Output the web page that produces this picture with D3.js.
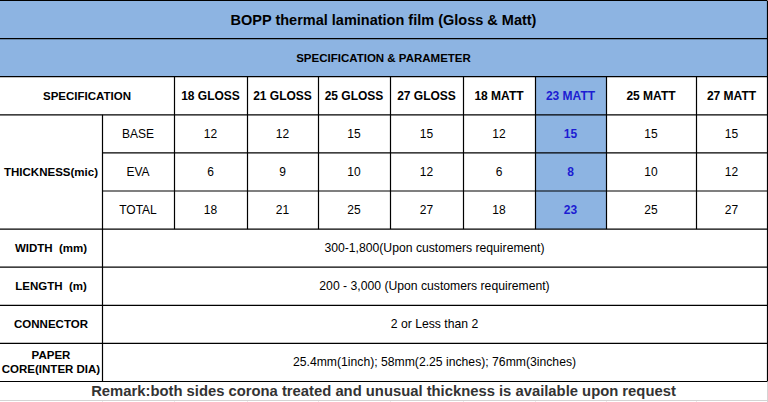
<!DOCTYPE html>
<html><head><meta charset="utf-8">
<script src="https://cdn.jsdelivr.net/npm/d3@7"></script>
<style>html,body{margin:0;padding:0;background:#fff;}svg{display:block;}text{white-space:pre;}</style>
</head><body>
<svg id="c" width="768" height="402"></svg>
<script>
const title = "BOPP thermal lamination film (Gloss & Matt)";
const subtitle = "SPECIFICATION & PARAMETER";
const products = ["18 GLOSS","21 GLOSS","25 GLOSS","27 GLOSS","18 MATT","23 MATT","25 MATT","27 MATT"];
const layers = ["BASE","EVA","TOTAL"];
const baseValues = [12,12,15,15,12,15,15,15];
const evaValues = [6,9,10,12,6,8,10,12];
const totalValues = [18,21,25,27,18,23,25,27];
const highlighted = "23 MATT";
const specLabels = ["WIDTH  (mm)","LENGTH  (m)","CONNECTOR",["PAPER","CORE(INTER DIA)"]];
const specValues = ["300-1,800(Upon customers requirement)","200 - 3,000 (Upon customers requirement)","2 or Less than 2","25.4mm(1inch); 58mm(2.25 inches); 76mm(3inches)"];
const remark = "Remark:both sides corona treated and unusual thickness is available upon request";

// layout (not data)
const colEdges = [0,102,174,247,318,390,463,535,606,696,767];
const rowH = 38.1, topY = 0.5;
const blue = "#8db4e2", hiText = "#1c1cd2";
const svg = d3.select("#c");
const font = "'Liberation Sans', Arial, sans-serif";

const x = d3.scaleOrdinal().domain(["lab","sub"].concat(products)).range(colEdges.slice(0,10));
const xr = d3.scaleOrdinal().domain(["lab","sub"].concat(products)).range(colEdges.slice(1));
const y = d3.scaleLinear().domain([0,10]).range([topY, topY+rowH*10]);

function cell(x0,x1,r0,r1,fill){
  svg.append("rect").attr("x",x0).attr("y",y(r0)).attr("width",x1-x0).attr("height",y(r1)-y(r0))
    .attr("fill",fill||"#fff").attr("stroke","none");
}
function txt(t,cx,cy,opt){
  opt=opt||{};
  svg.append("text").attr("x",cx).attr("y",cy).attr("text-anchor","middle").attr("dominant-baseline","central")
    .attr("font-family",font).attr("font-size",opt.size||12).attr("font-weight",opt.bold?"bold":"normal")
    .attr("fill",opt.color||"#000").text(t);
}
const L = colEdges[0], R = colEdges[10];
cell(L,R,0,2,blue);
cell(x(highlighted),xr(highlighted),2,6,blue);

const g = svg.append("g").attr("stroke","#d4d4d4").attr("stroke-width",1);
g.append("line").attr("x1",L).attr("x2",R).attr("y1",400.5).attr("y2",400.5);
colEdges.slice(1).forEach(e=>{g.append("line").attr("x1",e+0.5).attr("x2",e+0.5).attr("y1",y(10)+20).attr("y2",402);});
g.append("line").attr("x1",R+0.5).attr("x2",R+0.5).attr("y1",y(10)).attr("y2",402);

const b = svg.append("g").attr("stroke","#000").attr("stroke-width",1.2).attr("fill","none");
function hl(r,x0,x1){b.append("line").attr("x1",x0).attr("x2",x1).attr("y1",y(r)).attr("y2",y(r));}
function vl(c,r0,r1){b.append("line").attr("x1",c+0.5).attr("x2",c+0.5).attr("y1",y(r0)).attr("y2",y(r1));}
for(let r=0;r<=10;r++){
  if(r===4||r===5) hl(r,colEdges[1],R); else hl(r,L,R);
}
vl(R,0,10);
vl(colEdges[2],2,6);
colEdges.slice(3,10).forEach(e=>vl(e,2,6));
vl(colEdges[1],3,10);

txt(title,(L+R)/2,(y(0)+y(1))/2,{bold:true,size:14.5});
txt(subtitle,(L+R)/2,(y(1)+y(2))/2,{bold:true,size:11.5});
txt("SPECIFICATION",(colEdges[0]+colEdges[2])/2,(y(2)+y(3))/2,{bold:true,size:11.5});
products.forEach(p=>{
  txt(p,(x(p)+xr(p))/2,(y(2)+y(3))/2,{bold:true,size:12,color:p===highlighted?hiText:"#000"});
});
txt("THICKNESS(mic)",(colEdges[0]+colEdges[1])/2,(y(3)+y(6))/2,{bold:true,size:11.5});
const series=[baseValues,evaValues,totalValues];
layers.forEach((l,i)=>{
  txt(l,(colEdges[1]+colEdges[2])/2,(y(3+i)+y(4+i))/2,{size:12});
  products.forEach((p,j)=>{
    const h=p===highlighted;
    txt(series[i][j],(x(p)+xr(p))/2,(y(3+i)+y(4+i))/2,{size:12,bold:h,color:h?hiText:"#000"});
  });
});
specLabels.forEach((s,i)=>{
  const cy=(y(6+i)+y(7+i))/2;
  if(Array.isArray(s)){
    txt(s[0],(colEdges[0]+colEdges[1])/2,cy-7,{bold:true,size:11.5});
    txt(s[1],(colEdges[0]+colEdges[1])/2,cy+7,{bold:true,size:11.5});
  } else txt(s,(colEdges[0]+colEdges[1])/2,cy,{bold:true,size:11.5});
  txt(specValues[i],(colEdges[1]+R)/2,cy,{size:12.2});
});
txt(remark,(L+R)/2,390.5,{bold:true,size:14.8,color:"#333"});
</script>
</body></html>
